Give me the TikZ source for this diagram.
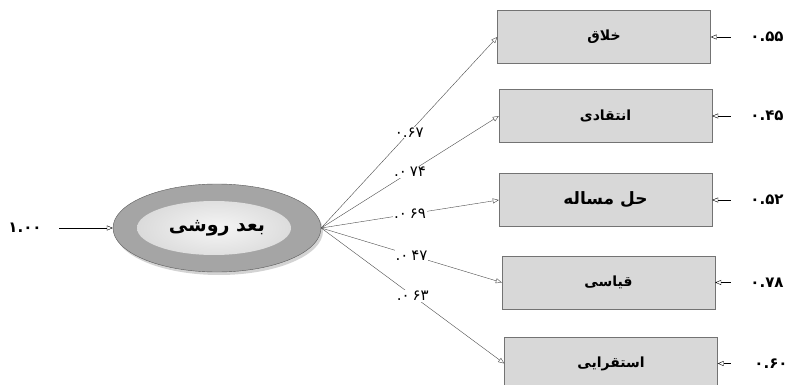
\documentclass[tikz,border=0pt]{standalone}
\usepackage{fontspec}
\newfontfamily\arabicfont[Script=Arabic]{DejaVu Sans}
\TeXXeTstate=1
\usetikzlibrary{arrows.meta,shapes.geometric,shadows}
\definecolor{boxgray}{RGB}{216,216,216}
\definecolor{ovalgray}{RGB}{165,165,165}
\begin{document}
\begin{tikzpicture}[x=1pt,y=-1pt,
    tip/.style={-{Triangle[open,length=6pt,width=5pt]}},
    obs/.style={draw=gray!90!black,fill=boxgray,minimum width=213pt,minimum height=53pt,
                font=\arabicfont\bfseries\fontsize{14}{16}\selectfont},
    load/.style={fill=white,text=black,inner sep=1pt,font=\arabicfont\fontsize{15}{17}\selectfont},
    err/.style={font=\arabicfont\bfseries\fontsize{15}{17}\selectfont}]
    \useasboundingbox (0,0) rectangle (789,385);
    \clip (0,0) rectangle (789,385);

    \node[ellipse,draw=gray!70!black,fill=ovalgray,minimum width=208pt,minimum height=88pt,
          drop shadow={shadow xshift=2pt,shadow yshift=-3pt,opacity=0.35},
          path picture={\shade[inner color=gray!8,outer color=gray!35]
              ([xshift=-3pt]path picture bounding box.center) ellipse (77pt and 27pt);},
          font=\arabicfont\bfseries\fontsize{19}{22}\selectfont] (dim) at (217,228) {\beginR بعد روشی\endR};

    \node[obs] (khallaq) at (604,37) {\beginR خلاق\endR};
    \node[obs] (enteqadi) at (605.5,116) {\beginR انتقادی\endR};
    \node[obs,font=\arabicfont\bfseries\fontsize{17}{20}\selectfont] (hal) at (605.5,200) {\beginR حل مساله\endR};
    \node[obs] (qiyasi) at (608.5,282.5) {\beginR قیاسی\endR};
    \node[obs] (esteqrai) at (611,363.5) {\beginR استقرایی\endR};

    \node[err] (var) at (25,228) {۱.۰۰};
    \node[err] (e1) at (767,37) {۰.۵۵};
    \node[err] (e2) at (767,116) {۰.۴۵};
    \node[err] (e3) at (767,200) {۰.۵۲};
    \node[err] (e4) at (767,282.5) {۰.۷۸};
    \node[err] (e5) at (771,363.5) {۰.۶۰};

    \draw[tip,shorten <=14pt] (var.east) -- (dim.west);
    \draw[tip,shorten <=16pt] (e1.west) -- (khallaq.east);
    \draw[tip,shorten <=16pt] (e2.west) -- (enteqadi.east);
    \draw[tip,shorten <=16pt] (e3.west) -- (hal.east);
    \draw[tip,shorten <=16pt] (e4.west) -- (qiyasi.east);
    \draw[tip,shorten <=20pt] (e5.west) -- (esteqrai.east);

    \draw[tip,gray!60!black] (dim.east) -- node[load] {۰.۶۷} (khallaq.west);
    \draw[tip,gray!60!black] (dim.east) -- node[load] {۰.\kern3pt۷۴} (enteqadi.west);
    \draw[tip,gray!60!black] (dim.east) -- node[load] {۰.\kern3pt۶۹} (hal.west);
    \draw[tip,gray!60!black] (dim.east) -- node[load] {۰.\kern3pt۴۷} (qiyasi.west);
    \draw[tip,gray!60!black] (dim.east) -- node[load] {۰.\kern3pt۶۳} (esteqrai.west);
\end{tikzpicture}
\end{document}
